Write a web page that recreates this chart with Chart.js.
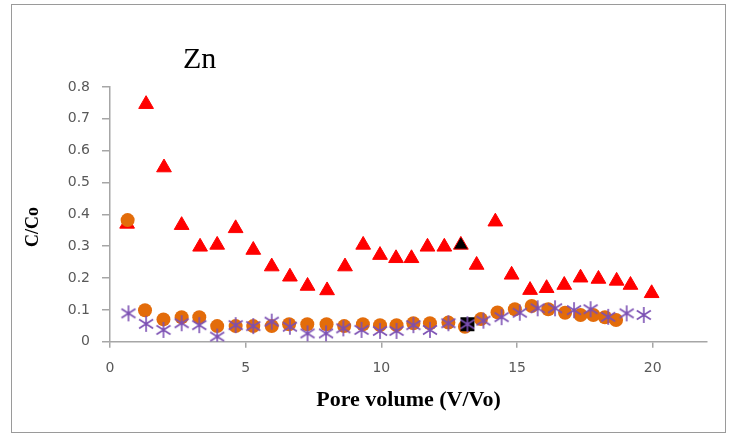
<!DOCTYPE html>
<html>
<head>
<meta charset="utf-8">
<script src="https://cdn.jsdelivr.net/npm/chart.js@4"></script>
<style>
  html, body { margin: 0; padding: 0; background: #fff; }
  #wrap { width: 735px; height: 437px; }
</style>
</head>
<body>
<div id="wrap"><canvas id="chart" width="735" height="437"></canvas></div>
<script>
// values
const xTicks = [0, 5, 10, 15, 20];
const yTicks = [0, 0.1, 0.2, 0.3, 0.4, 0.5, 0.6, 0.7, 0.8];

const triX = [0.63, 1.33, 1.99, 2.64, 3.32, 3.95, 4.63, 5.28, 5.96, 6.63, 7.28, 8.0, 8.66, 9.33, 9.95, 10.54,
  11.11, 11.7, 12.32, 12.93, 13.51, 14.2, 14.8, 15.48, 16.09, 16.74, 17.34, 18.0, 18.67, 19.18, 19.96];
const triY = [0.370, 0.746, 0.547, 0.366, 0.298, 0.304, 0.356, 0.288, 0.236, 0.204, 0.175, 0.161, 0.236, 0.304,
  0.272, 0.262, 0.262, 0.298, 0.298, 0.304, 0.241, 0.377, 0.210, 0.162, 0.168, 0.178, 0.201, 0.197, 0.191, 0.178, 0.152];

const circX = [0.65, 1.29, 1.97, 2.64, 3.29, 3.95, 4.63, 5.28, 5.96, 6.6, 7.27, 7.98, 8.63, 9.32, 9.95, 10.56,
  11.18, 11.79, 12.47, 13.08, 13.67, 14.28, 14.92, 15.54, 16.15, 16.77, 17.34, 17.81, 18.24, 18.65];
const circY = [0.382, 0.099, 0.070, 0.077, 0.077, 0.049, 0.049, 0.049, 0.049, 0.055, 0.055, 0.055, 0.049, 0.055,
  0.052, 0.052, 0.058, 0.058, 0.060, 0.047, 0.071, 0.092, 0.102, 0.112, 0.102, 0.091, 0.084, 0.084, 0.077, 0.068];

const starX = [0.68, 1.33, 1.97, 2.64, 3.29, 3.95, 4.63, 5.28, 5.96, 6.63, 7.28, 7.96, 8.6, 9.27, 9.95, 10.56,
  11.18, 11.79, 12.47, 13.17, 13.76, 14.43, 15.1, 15.76, 16.4, 17.1, 17.71, 18.36, 19.04, 19.67];
const starY = [0.089, 0.056, 0.037, 0.058, 0.052, 0.016, 0.052, 0.049, 0.063, 0.047, 0.026, 0.026, 0.042, 0.037,
  0.034, 0.034, 0.052, 0.037, 0.058, 0.055, 0.066, 0.077, 0.091, 0.105, 0.105, 0.099, 0.102, 0.078, 0.089, 0.084];

// the one marked point in each of two series
const blackTri = 19;
const blackSquare = 19;

const PURPLE = '#7b4fb3';
const ORANGE = '#e36c0a';
const AXIS = '#a6a6a6';

function asterisk(withSquare) {
  const c = document.createElement('canvas');
  c.width = 18; c.height = 18;
  const g = c.getContext('2d');
  if (withSquare) {
    g.fillStyle = '#000';
    g.fillRect(2, 2, 14, 14);
  }
  g.strokeStyle = PURPLE;
  g.lineWidth = 1.6;
  g.beginPath();
  g.moveTo(9, 1); g.lineTo(9, 17);
  g.moveTo(2, 4.5); g.lineTo(16, 13.5);
  g.moveTo(2, 13.5); g.lineTo(16, 4.5);
  g.stroke();
  return c;
}
const starImg = asterisk(false);
const starSqImg = asterisk(true);

const pts = (xs, ys) => xs.map((x, i) => ({ x: x, y: ys[i] }));

const extras = {
  id: 'extras',
  beforeDraw(chart) {
    const ctx = chart.ctx;
    ctx.save();
    ctx.fillStyle = '#fff';
    ctx.fillRect(0, 0, chart.width, chart.height);
    ctx.strokeStyle = '#9a9a9a';
    ctx.lineWidth = 1;
    ctx.strokeRect(11.5, 4.5, 714, 428);
    ctx.restore();
  },
  afterDraw(chart) {
    const ctx = chart.ctx;
    ctx.save();
    ctx.fillStyle = '#000';
    ctx.font = '30px "Liberation Serif", serif';
    ctx.textBaseline = 'alphabetic';
    ctx.fillText('Zn', 183, 68);
    // y axis title, sits a little below the middle of the plot
    ctx.translate(33, 227);
    ctx.rotate(-Math.PI / 2);
    ctx.font = 'bold 18px "Liberation Serif", serif';
    ctx.textAlign = 'center';
    ctx.textBaseline = 'middle';
    ctx.fillText('C/Co', 0, 0);
    ctx.restore();
  }
};

new Chart(document.getElementById('chart'), {
  type: 'scatter',
  data: {
    datasets: [
      {
        label: 'asterisk',
        data: pts(starX, starY),
        pointStyle: ctx => ctx.dataIndex === blackSquare ? starSqImg : starImg,
        pointRadius: 8,
        pointHoverRadius: 8
      },
      {
        label: 'circle',
        data: pts(circX, circY),
        pointStyle: 'circle',
        pointRadius: 7,
        pointHoverRadius: 7,
        backgroundColor: ORANGE,
        borderColor: ORANGE,
        borderWidth: 0
      },
      {
        label: 'triangle',
        data: pts(triX, triY),
        pointStyle: 'triangle',
        pointRadius: 8.5,
        pointHoverRadius: 8.5,
        pointBackgroundColor: triX.map((_, i) => i === blackTri ? '#000' : '#ff0000'),
        pointBorderColor: '#ff0000',
        pointBorderWidth: 1
      }
    ]
  },
  options: {
    responsive: false,
    animation: false,
    events: [],
    layout: { padding: { left: 10, right: 28, top: 87, bottom: 0 } },
    plugins: { legend: { display: false }, tooltip: { enabled: false } },
    scales: {
      x: {
        type: 'linear',
        min: 0,
        max: 22,
        afterBuildTicks: s => { s.ticks = xTicks.map(v => ({ value: v })); },
        afterFit: s => { s.height = 95.3; },
        grid: { drawOnChartArea: false, drawTicks: true, tickLength: 6, color: AXIS, lineWidth: 1.5 },
        border: { color: AXIS, width: 1.5 },
        ticks: { color: '#595959', padding: 12, font: { family: '"DejaVu Sans", sans-serif', size: 14 } },
        title: {
          display: true,
          text: 'Pore volume (V/Vo)',
          color: '#000',
          font: { family: '"Liberation Serif", serif', size: 22, weight: 'bold' },
          padding: { top: 0, bottom: 23 }
        }
      },
      y: {
        type: 'linear',
        min: 0,
        max: 0.8,
        afterBuildTicks: s => { s.ticks = yTicks.map(v => ({ value: v })); },
        afterFit: s => { s.width = 100; },
        grid: { drawOnChartArea: false, drawTicks: true, tickLength: 8, color: AXIS, lineWidth: 1.5 },
        border: { color: AXIS, width: 1.5 },
        ticks: {
          color: '#595959',
          padding: 12,
          font: { family: '"DejaVu Sans", sans-serif', size: 14 },
          callback: v => v === 0 ? '0' : v.toFixed(1)
        }
      }
    }
  },
  plugins: [extras]
});
</script>
</body>
</html>
